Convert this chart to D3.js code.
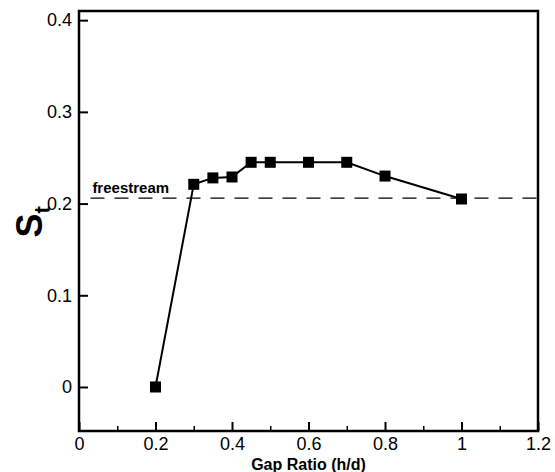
<!DOCTYPE html>
<html>
<head>
<meta charset="utf-8">
<script src="https://cdn.jsdelivr.net/npm/d3@7"></script>
<style>
  body { margin: 0; background: #fff; }
  text { font-family: "Liberation Sans", Arial, sans-serif; }
</style>
</head>
<body>
<div id="chart"></div>
<script>
// data
var gapRatio = [0.2, 0.3, 0.35, 0.4, 0.45, 0.5, 0.6, 0.7, 0.8, 1.0];
var strouhal = [0.0, 0.221, 0.228, 0.229, 0.245, 0.245, 0.245, 0.245, 0.230, 0.205];
var freestreamSt = 0.206;
var xTicks = [0, 0.2, 0.4, 0.6, 0.8, 1, 1.2];
var xMinor = [0.1, 0.3, 0.5, 0.7, 0.9, 1.1];
var yTicks = [0, 0.1, 0.2, 0.3, 0.4];

var width = 555, height = 472;
var margin = {top: 11, right: 17, bottom: 41, left: 79};
var w = width - margin.left - margin.right,
    h = height - margin.top - margin.bottom;

var svg = d3.select("#chart").append("svg")
    .attr("width", width)
    .attr("height", height);

var g = svg.append("g")
    .attr("transform", "translate(" + margin.left + "," + margin.top + ")");

var x = d3.scaleLinear().domain([0, 1.2]).range([0, w]);
var y = d3.scaleLinear().domain([-0.048, 0.41]).range([h, 0]);

// frame
g.append("rect")
    .attr("width", w).attr("height", h)
    .attr("fill", "none").attr("stroke", "#000").attr("stroke-width", 2.5);

// x axis - ticks point inward
var xAxis = g.append("g")
    .attr("transform", "translate(0," + h + ")")
    .call(d3.axisBottom(x).tickValues(xTicks).tickSizeInner(-9).tickSizeOuter(0)
      .tickPadding(5).tickFormat(function(d) { return d3.format("")(d); }));
xAxis.select(".domain").remove();
xAxis.selectAll(".tick line").attr("stroke-width", 2);
xAxis.selectAll(".tick text").attr("font-size", 18).attr("fill", "#000").attr("dy", "0.8em");

var xAxisMinor = g.append("g")
    .attr("transform", "translate(0," + h + ")")
    .call(d3.axisBottom(x).tickValues(xMinor).tickSizeInner(-5).tickSizeOuter(0).tickFormat(""));
xAxisMinor.select(".domain").remove();
xAxisMinor.selectAll(".tick line").attr("stroke-width", 1.5);

// y axis
var yAxis = g.append("g")
    .call(d3.axisLeft(y).tickValues(yTicks).tickSizeInner(-9).tickSizeOuter(0)
      .tickPadding(7).tickFormat(function(d) { return d3.format("")(d); }));
yAxis.select(".domain").remove();
yAxis.selectAll(".tick line").attr("stroke-width", 2);
yAxis.selectAll(".tick text").attr("font-size", 18).attr("fill", "#000");

// freestream dashed line
g.append("line")
    .attr("x1", x(0.03)).attr("x2", x(1.2))
    .attr("y1", y(freestreamSt)).attr("y2", y(freestreamSt))
    .attr("stroke", "#000").attr("stroke-width", 1.2)
    .attr("stroke-dasharray", "14,10");

g.append("text")
    .attr("x", x(0.035)).attr("y", y(freestreamSt) - 5)
    .attr("font-family", "Liberation Serif, serif")
    .attr("font-weight", "bold").attr("font-size", 15)
    .text("freestream");

// data line
var line = d3.line()
    .x(function(d, i) { return x(gapRatio[i]); })
    .y(function(d) { return y(d); });

g.append("path")
    .datum(strouhal)
    .attr("d", line)
    .attr("fill", "none").attr("stroke", "#000").attr("stroke-width", 2);

var s = 11;
g.selectAll("rect.pt")
    .data(strouhal)
  .enter().append("rect")
    .attr("class", "pt")
    .attr("x", function(d, i) { return x(gapRatio[i]) - s / 2; })
    .attr("y", function(d) { return y(d) - s / 2; })
    .attr("width", s).attr("height", s)
    .attr("fill", "#000");

// axis titles
svg.append("text")
    .attr("x", margin.left + x(0.6)).attr("y", 470)
    .attr("text-anchor", "middle")
    .attr("font-weight", "bold").attr("font-size", 16)
    .text("Gap Ratio (h/d)");

var yt = svg.append("text")
    .attr("transform", "translate(42," + (margin.top + y(0.18)) + ") rotate(-90)")
    .attr("text-anchor", "middle")
    .attr("font-weight", "bold").attr("font-size", 36);
yt.append("tspan").text("S");
yt.append("tspan").attr("font-size", 22).attr("dy", 8).text("t");
</script>
</body>
</html>
